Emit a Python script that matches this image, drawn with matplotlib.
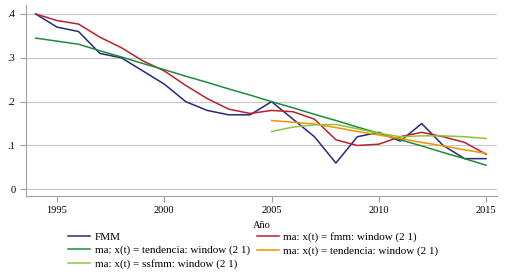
import matplotlib
matplotlib.use('Agg')
import matplotlib.pyplot as plt

years = list(range(1994, 2016))
years_late = list(range(2005, 2016))

fmm = [0.40, 0.37, 0.36, 0.31, 0.30, 0.27, 0.24, 0.20, 0.18, 0.17, 0.17,
       0.20, 0.16, 0.12, 0.06, 0.12, 0.13, 0.11, 0.15, 0.10, 0.07, 0.07]
ma_fmm = [0.400, 0.385, 0.377, 0.347, 0.323, 0.293, 0.270, 0.237, 0.207, 0.183, 0.173,
          0.180, 0.177, 0.160, 0.113, 0.100, 0.103, 0.120, 0.130, 0.120, 0.107, 0.080]
ma_tend = [0.345, 0.338, 0.331, 0.316, 0.302, 0.287, 0.273, 0.258, 0.244, 0.229, 0.215,
           0.200, 0.186, 0.171, 0.157, 0.142, 0.128, 0.113, 0.099, 0.084, 0.070, 0.055]
ma_tend2 = [0.157, 0.153, 0.149, 0.141, 0.132, 0.124, 0.116, 0.107, 0.099, 0.090, 0.082]
ma_ssfmm = [0.132, 0.142, 0.147, 0.148, 0.138, 0.128, 0.120, 0.122, 0.122, 0.120, 0.116]

yticks = [0, 0.1, 0.2, 0.3, 0.4]
ytick_labels = ['0', '.1', '.2', '.3', '.4']
xticks = [1995, 2000, 2005, 2010, 2015]

plt.rcParams['font.family'] = ['Liberation Serif', 'DejaVu Serif']
plt.rcParams['font.size'] = 7.5

fig = plt.figure(figsize=(5.09, 2.74), dpi=100)
ax = fig.add_axes([0.051, 0.285, 0.925, 0.696])

lw = 1.1
h_fmm, = ax.plot(years, fmm, color='#262a7c', lw=lw, label='FMM')
h_mafmm, = ax.plot(years, ma_fmm, color='#b8202c', lw=lw,
                   label='ma: x(t) = fmm: window (2 1)')
h_tend, = ax.plot(years, ma_tend, color='#1f8a3c', lw=lw,
                  label='ma: x(t) = tendencia: window (2 1)')
h_tend2, = ax.plot(years_late, ma_tend2, color='#f39200', lw=lw,
                   label='ma: x(t) = tendencia: window (2 1)')
h_ss, = ax.plot(years_late, ma_ssfmm, color='#8dc43f', lw=lw,
                label='ma: x(t) = ssfmm: window (2 1)')

ax.set_xlim(1993.55, 2015.5)
ax.set_ylim(-0.015, 0.42)
ax.set_yticks(yticks)
ax.set_yticklabels(ytick_labels)
ax.set_xticks(xticks)
ax.grid(axis='y', color='#c8c8c8', lw=0.8)
ax.set_axisbelow(True)

for side in ['top', 'right']:
    ax.spines[side].set_visible(False)
for side in ['left', 'bottom']:
    ax.spines[side].set_color('#a0a0a0')
    ax.spines[side].set_linewidth(0.8)
ax.tick_params(colors='#a0a0a0', labelcolor='black', length=4, width=0.8)
ax.set_xlabel('Año', labelpad=4)

handles = [h_fmm, h_tend, h_ss, h_mafmm, h_tend2]
fig.legend(handles, [h.get_label() for h in handles],
           ncol=2, loc='upper left', bbox_to_anchor=(0.134, 0.152),
           frameon=False, fontsize=8, handlelength=2.0, handletextpad=0.4,
           columnspacing=0.6, labelspacing=0.3, borderpad=0, borderaxespad=0)

fig.savefig('out.png', dpi=100, facecolor='white')
